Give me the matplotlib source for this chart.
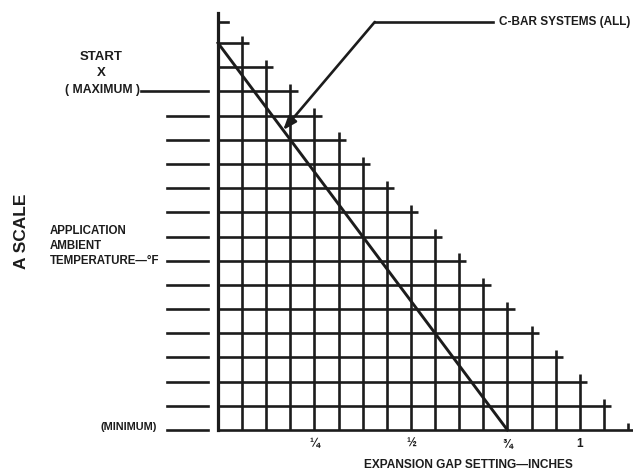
import matplotlib.pyplot as plt

# grid: horizontal rows (temperature steps) and vertical columns (1/16 inch steps)
row_levels = [0, 1, 2, 3, 4, 5, 6, 7, 8, 9, 10, 11, 12, 13, 14, 15, 16]
row_ends = [17, 16, 15, 14, 13, 12, 11, 10, 9, 8, 7, 6, 5, 4, 3, 2, 1]
col_pos = [1, 2, 3, 4, 5, 6, 7, 8, 9, 10, 11, 12, 13, 14, 15, 16, 17]
col_tops = [16, 15, 14, 13, 12, 11, 10, 9, 8, 7, 6, 5, 4, 3, 2, 1, 0]

# C-bar line
cbar_x = [0, 12]
cbar_y = [16, 0]

tick_pos = [4, 8, 12, 15]
tick_labels = ['¼', '½', '¾', '1']

# A scale marks on the left
short_marks = [1, 2, 3, 4, 5, 6, 7, 8, 9, 10, 11, 12, 13]
max_level = 14
min_level = 0

ink = '#1c1c1c'
lw = 1.9
over = 0.3
narrow = ['Liberation Sans', 'DejaVu Sans']

fig = plt.figure(figsize=(6.33, 4.74), dpi=100)
ax = fig.add_axes([218 / 633, 44 / 474, 410 / 633, 387 / 474])
ax.set_xlim(0, 17)
ax.set_ylim(0, 16)
ax.axis('off')

for y, xe in zip(row_levels, row_ends):
    ax.plot([0, xe + over], [y, y], color=ink, lw=lw, clip_on=False,
            solid_capstyle='butt')
for x, yt in zip(col_pos, col_tops):
    ax.plot([x, x], [0, yt + over], color=ink, lw=lw, clip_on=False,
            solid_capstyle='butt')

# vertical axis with top tick
ax.plot([0, 0], [0, 17.24], color=ink, lw=lw + 0.4, clip_on=False)
ax.plot([0, 0.42], [16.87, 16.87], color=ink, lw=lw, clip_on=False)

ax.plot(cbar_x, cbar_y, color=ink, lw=lw + 0.2, clip_on=False)

# left scale marks
for y in short_marks + [min_level]:
    ax.plot([-2.1, -0.42], [y, y], color=ink, lw=lw, clip_on=False)
ax.plot([-3.2, -0.42], [max_level, max_level], color=ink, lw=lw, clip_on=False)

# callout
ax.plot([6.5, 11.4], [16.87, 16.87], color=ink, lw=lw, clip_on=False)
ax.annotate('', xy=(2.7, 12.4), xytext=(6.5, 16.87),
            arrowprops=dict(arrowstyle='-|>,head_length=0.8,head_width=0.3',
                            color=ink, lw=lw, shrinkA=0, shrinkB=0),
            annotation_clip=False)
ax.text(11.65, 16.87, 'C-BAR SYSTEMS (ALL)', family=narrow, weight='bold',
        fontsize=8.5, color=ink, va='center', ha='left')

for x, lab in zip(tick_pos, tick_labels):
    ax.text(x, -0.58, lab, family=narrow, weight='bold', fontsize=8.5,
            color=ink, ha='center', va='center')

ax.text(10.37, -1.45, 'EXPANSION GAP SETTING—INCHES', family=narrow,
        weight='bold', fontsize=8.6, color=ink, ha='center', va='center')

ax.text(-4.85, 15.42, 'START', family=narrow, weight='bold', fontsize=9.5,
        color=ink, ha='center', va='center')
ax.text(-4.85, 14.76, 'X', family=narrow, weight='bold', fontsize=9.5,
        color=ink, ha='center', va='center')
ax.text(-4.8, 14.05, '( MAXIMUM )', family=narrow, weight='bold', fontsize=8.8,
        color=ink, ha='center', va='center')
ax.text(-3.7, 0.12, '(MINIMUM)', family=narrow, weight='bold', fontsize=7.8,
        color=ink, ha='center', va='center')

ax.text(-6.97, 7.6, 'APPLICATION\nAMBIENT\nTEMPERATURE—°F', family=narrow,
        weight='bold', fontsize=8.3, color=ink, ha='left', va='center',
        linespacing=1.3)
ax.text(-8.13, 8.23, 'A SCALE', family=['Liberation Sans', 'DejaVu Sans'],
        weight='bold', fontsize=12.5, color=ink, rotation=90,
        ha='center', va='center')

fig.savefig('out.png', dpi=100)
